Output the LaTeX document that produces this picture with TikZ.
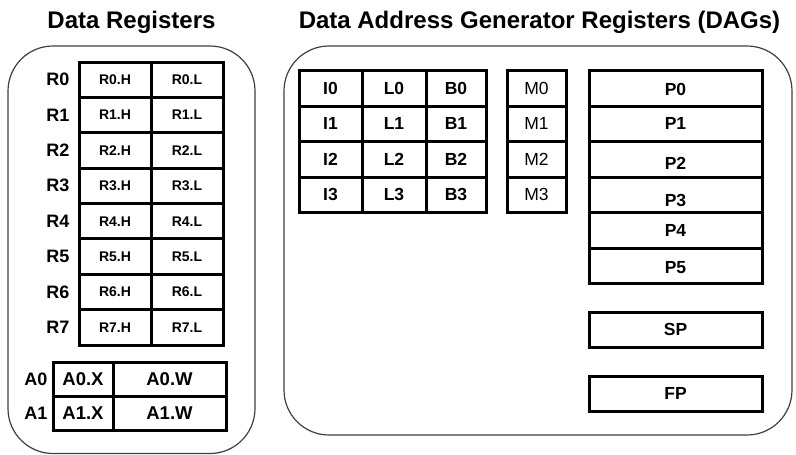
\documentclass[tikz,border=0pt]{standalone}
\usepackage{fontspec}
\setmainfont{Liberation Sans}
\begin{document}
\begin{tikzpicture}[x=1pt,y=-1pt,
  group/.style={draw=black!75, line width=1.2pt, rounded corners=45pt, inner sep=0pt},
  cellbox/.style={draw, line width=3pt, inner sep=0pt, rectangle},
  small/.style={font=\fontsize{14}{16}\selectfont\bfseries},
  acell/.style={font=\fontsize{18.5}{21}\selectfont\bfseries},
  big/.style={font=\fontsize{17.5}{20}\selectfont\bfseries},
  plain/.style={font=\fontsize{17.5}{20}\selectfont},
  lab/.style={font=\fontsize{18}{21}\selectfont\bfseries, inner sep=0pt},
  title/.style={font=\fontsize{24}{28}\selectfont\bfseries, anchor=base, inner sep=0pt}]
\useasboundingbox (0,0) rectangle (796,455);
\newcommand\rc[7]{\node[cellbox,#7,minimum width={(#4)-(#2)},minimum height={(#5)-(#3)}] (#1) at ({((#2)+(#4))/2},{((#3)+(#5))/2}) {#6};}
\newcommand\lowered[2]{\raisebox{-#1}[\height][\depth]{#2}}
% titles
\node[title] (t1) at (131.5,28.5) {Data Registers};
\node[title] (t2) at (539.5,28.5) {Data Address Generator Registers (DAGs)};
% group boxes
\node[group, minimum width=247pt, minimum height=407.5pt] (dr) at (131.5,249.75) {};
\node[group, minimum width=508pt, minimum height=389pt] (dag) at (538,240.5) {};
% data registers
\foreach \i in {0,...,7}{
  \pgfmathsetmacro\ya{62+35.375*\i}
  \pgfmathsetmacro\yb{\ya+35.375}
  \rc{rh\i}{79}{\ya}{151}{\yb}{R\i.H}{small}
  \rc{rl\i}{151}{\ya}{223}{\yb}{R\i.L}{small}
  \node[lab] (r\i) at (58,{(\ya+\yb)/2}) {R\i};
}
% accumulators
\foreach \i/\ya/\yb in {0/362/396,1/396/430}{
  \rc{ax\i}{53}{\ya}{113}{\yb}{A\i.X}{acell}
  \rc{aw\i}{113}{\ya}{226}{\yb}{A\i.W}{acell}
  \node[lab] (a\i) at (36,{(\ya+\yb)/2}) {A\i};
}
% I L B M
\foreach \i/\ya/\yb in {0/70.5/106,1/106/141.5,2/141.5/177,3/177/212.5}{
  \rc{i\i}{299}{\ya}{362}{\yb}{I\i}{big}
  \rc{l\i}{362}{\ya}{426}{\yb}{L\i}{big}
  \rc{b\i}{426}{\ya}{486}{\yb}{B\i}{big}
  \rc{m\i}{507}{\ya}{566}{\yb}{M\i}{plain}
}
% P registers
\rc{p0}{589}{70.5}{762}{106}{\lowered{1.5pt}{P0}}{big}
\rc{p1}{589}{106}{762}{141.5}{P1}{big}
\rc{p2}{589}{141.5}{762}{177}{\lowered{4pt}{P2}}{big}
\rc{p3}{589}{177}{762}{212.5}{\lowered{6pt}{P3}}{big}
\rc{p4}{589}{212.5}{762}{248}{P4}{big}
\rc{p5}{589}{248}{762}{283.5}{\lowered{1.5pt}{P5}}{big}
\rc{sp}{589}{312}{762}{347}{SP}{big}
\rc{fp}{589}{376}{762}{411}{FP}{big}
\end{tikzpicture}
\end{document}
